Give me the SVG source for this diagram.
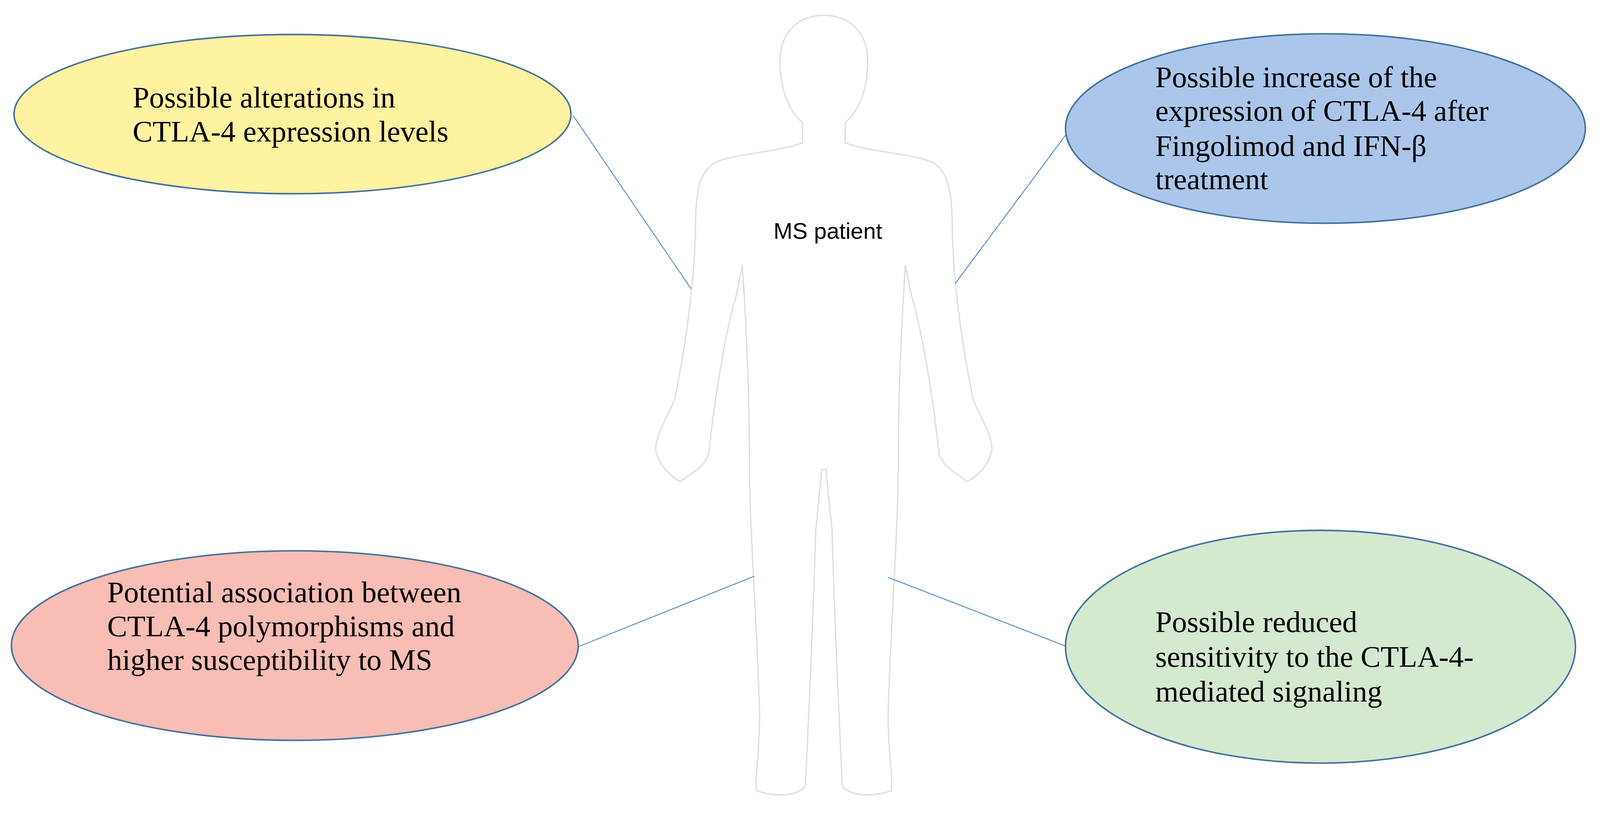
<svg xmlns="http://www.w3.org/2000/svg" width="4220" height="2134" viewBox="0 0 4220 2134">
<style>
.e{stroke:#41719c;stroke-width:4}
.t{font-family:"Liberation Serif",serif;font-size:79px;fill:#000}
.c{stroke:#5b8fc7;stroke-width:2.5;fill:none}
.b{fill:#fff;stroke:#e0e0e0;stroke-width:1.4;stroke-linejoin:round}
</style>
<rect width="4220" height="2134" fill="#fff"/>
<g transform="scale(0.97)">
<g id="body" transform="scale(2.691)">
<path id="half" class="b" d="M808,15 C785,15 765,30 765,60 C765,90 775,110 787,120 L787,140 C760,150 720,150 700,160 C685,170 682,190 682,230 C680,290 670,350 662,390 C655,410 645,420 643,440 C645,455 660,470 668,472 C675,465 690,460 695,445 C700,400 710,330 722,290 L728,260 C732,320 735,390 735,450 C735,520 742,600 745,700 C745,740 740,760 742,775 C760,782 785,780 790,770 C793,700 798,600 800,520 L806,460 L808,460"/>
<use href="#half" transform="translate(1616,0) scale(-1,1)"/>
</g>
<text x="2185" y="630" text-anchor="middle" font-family="Liberation Sans,sans-serif" font-size="60">MS patient</text>
<g id="connectors">
<line class="c" x1="1512" y1="304" x2="1824" y2="762"/>
<line class="c" x1="2817" y1="350" x2="2521" y2="748"/>
<line class="c" x1="1526" y1="1706" x2="1991" y2="1520"/>
<line class="c" x1="2817" y1="1706" x2="2344" y2="1523"/>
</g>
<g id="yellow">
<ellipse class="e" cx="772" cy="301" rx="735" ry="210" fill="#fff2a0"/>
<text class="t" x="350" y="284">Possible alterations in</text>
<text class="t" x="350" y="373">CTLA-4 expression levels</text>
</g>
<g id="blue">
<ellipse class="e" cx="3498" cy="339" rx="686" ry="250" fill="#abc6ea"/>
<text class="t" x="3049" y="230">Possible increase of the</text>
<text class="t" x="3049" y="319">expression of CTLA-4 after</text>
<text class="t" x="3049" y="411">Fingolimod and IFN-β</text>
<text class="t" x="3049" y="499">treatment</text>
</g>
<g id="red">
<ellipse class="e" cx="778" cy="1703" rx="748" ry="250" fill="#f8bdb5"/>
<text class="t" x="283" y="1589">Potential association between</text>
<text class="t" x="283" y="1678">CTLA-4 polymorphisms and</text>
<text class="t" x="283" y="1767">higher susceptibility to MS</text>
</g>
<g id="green">
<ellipse class="e" cx="3485" cy="1706" rx="673" ry="307" fill="#d5e8d0"/>
<text class="t" x="3049" y="1667">Possible reduced</text>
<text class="t" x="3049" y="1759">sensitivity to the CTLA-4-</text>
<text class="t" x="3049" y="1850">mediated signaling</text>
</g>
</g>
</svg>
